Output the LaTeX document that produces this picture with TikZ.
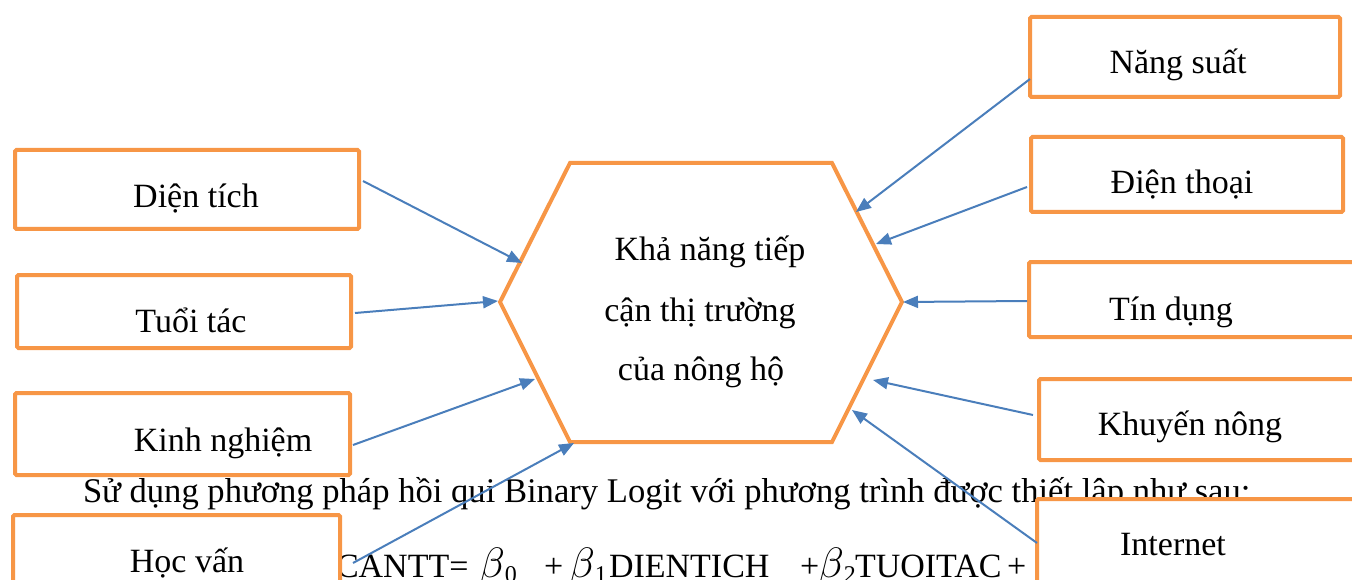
\documentclass[tikz,border=0pt]{standalone}
\usepackage{fix-cm}
\usepackage{fontspec}
\setmainfont{Liberation Serif}
\usetikzlibrary{arrows.meta}
\definecolor{boxorange}{HTML}{F79646}
\definecolor{arrowblue}{HTML}{4A7EBB}
\newcommand{\betasub}[1]{\scalebox{1.25}{$\beta$}\raisebox{-5pt}{\fontsize{24}{24}\selectfont #1}}
\begin{document}
\begin{tikzpicture}[x=1pt,y=-1pt,
  every node/.style={inner sep=0pt,outer sep=0pt,font=\fontsize{34}{40}\selectfont},
  fbox/.style n args={2}{draw=boxorange,line width=4pt,fill=white,rounded corners=1.5pt,
     rectangle,minimum width=#1,minimum height=#2},
  lbl/.style={anchor=base},
  ftxt/.style={anchor=base west},
  conn/.style={draw=arrowblue,line width=2pt,-{Triangle[length=15pt,width=12pt]}}]
\useasboundingbox (0,0) rectangle (1352,580);
\clip (0,0) rectangle (1352,580);
% background body text
\node[anchor=base west,font=\fontsize{34.6}{40}\selectfont] (body1) at (83,502) {Sử dụng phương pháp hồi qui Binary Logit với phương trình được thiết lập như sau:};
\node[ftxt] (f1) at (336,577) {CANTT=};
\node[ftxt] (f2) at (479,577) {\betasub{0}};
\node[ftxt] (f3) at (544,577) {+};
\node[ftxt] (f4) at (569,577) {\betasub{1}};
\node[ftxt] (f5) at (609,577) {DIENTICH};
\node[ftxt] (f6) at (800,577) {+};
\node[ftxt] (f7) at (818,577) {\betasub{2}};
\node[ftxt] (f8) at (855,577) {TUOITAC};
\node[ftxt] (f9) at (1007,577) {+};
% boxes
\node[fbox={344pt}{79pt}] (dt) at (187,189.5) {};
\node[fbox={334pt}{73pt}] (tt) at (184,311.5) {};
\node[fbox={335pt}{82pt}] (kn) at (182.5,434) {};
\node[fbox={327pt}{90pt}] (hv) at (176.5,560) {};
\node[fbox={310pt}{80pt}] (ns) at (1185,57) {};
\node[fbox={312pt}{75pt}] (dth) at (1187,174.5) {};
\node[fbox={341pt}{75pt}] (td) at (1199.5,299.5) {};
\node[fbox={331pt}{81pt}] (kh) at (1204.5,419.5) {};
\node[fbox={333pt}{111pt}] (in) at (1203.5,554.5) {};
% box labels
\node[lbl] (dtl) at (196,208) {Diện tích};
\node[lbl] (ttl) at (191,332) {Tuổi tác};
\node[lbl] (knl) at (223,451) {Kinh nghiệm};
\node[lbl] (hvl) at (187,572) {Học vấn};
\node[lbl] (nsl) at (1178,74) {Năng suất};
\node[lbl] (dthl) at (1182,194) {Điện thoại};
\node[lbl] (tdl) at (1171,320) {Tín dụng};
\node[lbl] (khl) at (1190,435) {Khuyến nông};
\node[lbl] (inl) at (1173,555) {Internet};
% hexagon
\coordinate (h1) at (570,163);
\coordinate (h2) at (832,163);
\coordinate (h3) at (902,302);
\coordinate (h4) at (832,442);
\coordinate (h5) at (570,442);
\coordinate (h6) at (500,302);
\draw[draw=boxorange,line width=4pt,fill=white,line join=miter]
  (h1) -- (h2) -- (h3) -- (h4) -- (h5) -- (h6) -- cycle;
\node[lbl] (c1) at (710,261) {Khả năng tiếp};
\node[lbl] (c2) at (700,321) {cận thị trường};
\node[lbl] (c3) at (701,380) {của nông hộ};
% arrow tips on hexagon
\coordinate (t1) at (522,263);
\coordinate (t2) at (498,301);
\coordinate (t3) at (535,379);
\coordinate (t4) at (574,443);
\coordinate (t5) at (856,212);
\coordinate (t6) at (876,244);
\coordinate (t7) at (903,302);
\coordinate (t8) at (873,380);
\coordinate (t9) at (852,410);
% connectors
\draw[conn] ([shift={(4,-8.5)}]dt.east) -- (t1);
\draw[conn] ([shift={(4,1.5)}]tt.east) -- (t2);
\draw[conn] ([shift={(3,11)}]kn.east) -- (t3);
\draw[conn] ([shift={(13,3)}]hv.east) -- (t4);
\draw[conn] ([shift={(0,22)}]ns.west) -- (t5);
\draw[conn] ([shift={(-4,12.5)}]dth.west) -- (t6);
\draw[conn] ([shift={(-2,1.5)}]td.west) -- (t7);
\draw[conn] ([shift={(-6,-4.5)}]kh.west) -- (t8);
\draw[conn] ([shift={(0,-11.5)}]in.west) -- (t9);
\end{tikzpicture}
\end{document}
